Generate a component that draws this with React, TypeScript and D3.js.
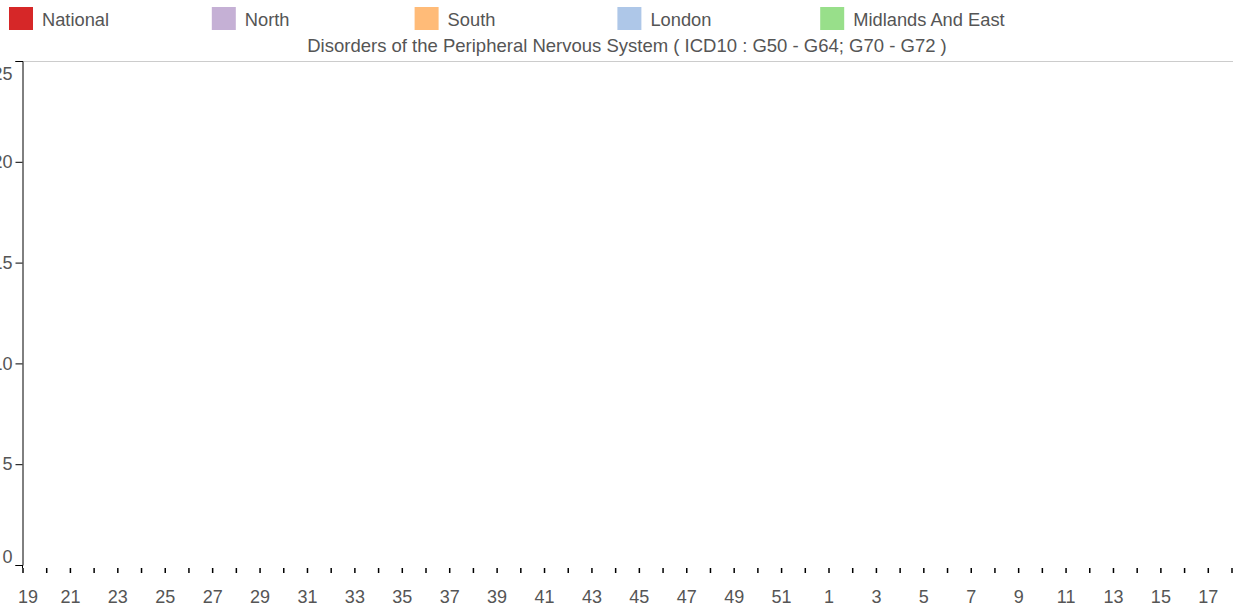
import React, { useEffect, useRef } from "react";
import * as d3 from "d3";

const WIDTH = 1234;
const HEIGHT = 610;

const seriesNames = ["National", "North", "South", "London", "Midlands And East"];
const seriesColors = ["#d62728", "#c5b0d5", "#ffbb78", "#aec7e8", "#98df8a"];
const weeks = [
  19, 20, 21, 22, 23, 24, 25, 26, 27, 28, 29, 30, 31, 32, 33, 34, 35, 36, 37, 38, 39, 40,
  41, 42, 43, 44, 45, 46, 47, 48, 49, 50, 51, 52, 1, 2, 3, 4, 5, 6, 7, 8, 9, 10, 11, 12,
  13, 14, 15, 16, 17, 18,
];
const yTicks = [0, 5, 10, 15, 20, 25];
// No values are plotted in the reference chart: every series is empty.
const nationalValues: number[] = [];
const northValues: number[] = [];
const southValues: number[] = [];
const londonValues: number[] = [];
const midlandsValues: number[] = [];
const seriesValues = [nationalValues, northValues, southValues, londonValues, midlandsValues];
const title = "Disorders of the Peripheral Nervous System ( ICD10 : G50 - G64; G70 - G72 )";

export default function App() {
  const ref = useRef<SVGSVGElement | null>(null);

  useEffect(() => {
    const svg = d3.select(ref.current);
    svg.selectAll("*").remove();
    const font = "'Liberation Sans', Arial, sans-serif";
    const textColor = "#555";
    const left = 22.5;
    const right = 1231.5;
    const top = 61;
    const bottom = 565;

    const x = d3.scalePoint<number>().domain(weeks.map((_, i) => i)).range([left, right]);
    const y = d3.scaleLinear().domain([0, 25]).range([bottom, top]);

    // legend
    const legend = svg.append("g");
    seriesNames.forEach((name, i) => {
      const g = legend.append("g").attr("transform", `translate(${9 + i * 202.8},7)`);
      g.append("rect").attr("width", 24).attr("height", 23).attr("fill", seriesColors[i]);
      g.append("text")
        .attr("x", 33)
        .attr("y", 19)
        .attr("font-family", font)
        .attr("font-size", 18.3)
        .attr("fill", textColor)
        .text(name);
    });

    // title
    svg
      .append("text")
      .attr("x", 627)
      .attr("y", 52)
      .attr("text-anchor", "middle")
      .attr("font-family", font)
      .attr("font-size", 18.5)
      .attr("fill", textColor)
      .text(title);

    // top border line
    svg
      .append("line")
      .attr("x1", left)
      .attr("x2", 1233)
      .attr("y1", top + 0.5)
      .attr("y2", top + 0.5)
      .attr("stroke", "#ccc");

    // y axis
    const yAxis = svg
      .append("g")
      .attr("transform", `translate(${left},0)`)
      .call(d3.axisLeft(y).tickValues(yTicks).tickSize(7).tickPadding(3));
    yAxis.select(".domain").attr("stroke", "#000");
    yAxis.selectAll(".tick line").attr("stroke", "#000");
    yAxis
      .selectAll<SVGTextElement, number>(".tick text")
      .attr("font-family", font)
      .attr("font-size", 18)
      .attr("fill", textColor)
      .attr("dy", (d) => (d === 25 ? "1.05em" : d === 0 ? "-0.15em" : "0.32em"));

    // x axis (ticks only)
    const xAxis = svg
      .append("g")
      .attr("transform", `translate(0,${bottom + 3})`)
      .call(
        d3
          .axisBottom(x)
          .tickSize(5)
          .tickPadding(17)
          .tickFormat((i) => ((i as number) % 2 === 0 ? String(weeks[i as number]) : ""))
      );
    xAxis.select(".domain").remove();
    xAxis.selectAll(".tick line").attr("stroke", "#000").attr("stroke-width", 1.5);
    xAxis
      .selectAll<SVGTextElement, number>(".tick text")
      .attr("font-family", font)
      .attr("font-size", 18)
      .attr("fill", textColor)
      .attr("dx", (i) => (i === 0 ? 5 : 0));

    // join y-axis to first x tick
    svg
      .append("line")
      .attr("x1", left)
      .attr("x2", left)
      .attr("y1", bottom)
      .attr("y2", bottom + 3)
      .attr("stroke", "#000");

    // series lines (empty in the reference)
    const line = d3
      .line<number>()
      .x((_, i) => x(i) as number)
      .y((d) => y(d));
    seriesValues.forEach((vals, i) => {
      svg
        .append("path")
        .datum(vals)
        .attr("fill", "none")
        .attr("stroke", seriesColors[i])
        .attr("stroke-width", 2)
        .attr("d", vals.length ? line(vals) : null);
    });
  }, []);

  return (
    <svg
      ref={ref}
      width={WIDTH}
      height={HEIGHT}
      style={{ position: "absolute", left: 0, top: 0, background: "#fff" }}
    />
  );
}
